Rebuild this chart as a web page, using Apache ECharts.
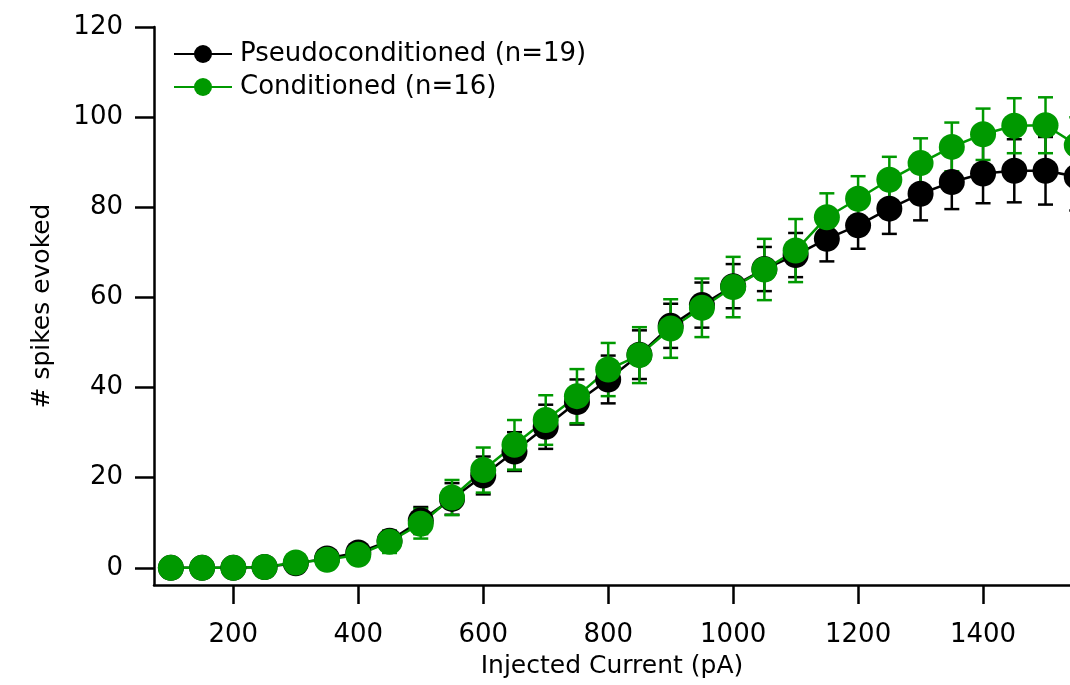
<!DOCTYPE html>
<html>
<head>
<meta charset="utf-8">
<script src="https://cdn.jsdelivr.net/npm/echarts@6/dist/echarts.min.js"></script>
<style>
  html, body { margin: 0; padding: 0; background: #fff; }
  #chart { width: 1070px; height: 685px; }
</style>
</head>
<body>
<div id="chart"></div>
<script>
// injected current steps (pA)
const currents = [100, 150, 200, 250, 300, 350, 400, 450, 500, 550, 600, 650, 700, 750, 800,
  850, 900, 950, 1000, 1050, 1100, 1150, 1200, 1250, 1300, 1350, 1400, 1450, 1500, 1550]

// Pseudoconditioned, mean and SEM
const pseudoMean = [0, 0, 0, 0.2, 1.0, 2.1, 3.4, 6.0, 10.5, 15.3, 20.5, 25.8, 31.3, 36.8, 41.8,
  47.3, 53.7, 58.3, 62.5, 66.3, 69.4, 73.0, 76.0, 79.7, 83.0, 85.6, 87.5, 88.1, 88.1, 86.8]
const pseudoErr = [0, 0, 0, 0.2, 0.5, 0.8, 1.2, 2.0, 3.0, 3.5, 4.2, 4.3, 4.9, 5.0, 5.3,
  5.4, 4.9, 5.0, 4.9, 4.9, 4.9, 5.0, 5.2, 5.6, 5.9, 6.0, 6.6, 7.0, 7.5, 7.5]

// Conditioned, mean and SEM
const condMean = [0, 0, 0, 0.2, 1.2, 1.8, 2.9, 5.8, 9.8, 15.6, 21.7, 27.3, 32.8, 38.1, 44.0,
  47.2, 53.1, 57.7, 62.3, 66.2, 70.4, 77.8, 81.9, 86.1, 89.8, 93.4, 96.2, 98.1, 98.2, 93.8]
const condErr = [0, 0, 0, 0.3, 0.6, 1.0, 1.5, 2.5, 3.3, 3.9, 5.0, 5.5, 5.5, 6.0, 5.9,
  6.2, 6.5, 6.5, 6.7, 6.8, 7.0, 5.3, 5.0, 5.1, 5.5, 5.4, 5.7, 6.1, 6.2, 6.2]

const xTicks = [200, 400, 600, 800, 1000, 1200, 1400]
const yTicks = [0, 20, 40, 60, 80, 100, 120]

const GREEN = '#009900'
const FONT = 'DejaVu Sans'

function points (mean) {
  return currents.map((c, i) => [c, mean[i]])
}

function errData (mean, err) {
  return currents.map((c, i) => [c, mean[i] - err[i], mean[i] + err[i]])
}

function errSeries (mean, err, color) {
  return {
    type: 'custom',
    silent: true,
    clip: false,
    data: errData(mean, err),
    renderItem (params, api) {
      const lo = api.coord([api.value(0), api.value(1)])
      const hi = api.coord([api.value(0), api.value(2)])
      const w = 7.5
      const style = { stroke: color, lineWidth: 2.5 }
      return {
        type: 'group',
        children: [
          { type: 'line', shape: { x1: lo[0], y1: lo[1], x2: hi[0], y2: hi[1] }, style },
          { type: 'line', shape: { x1: lo[0] - w, y1: lo[1], x2: lo[0] + w, y2: lo[1] }, style },
          { type: 'line', shape: { x1: hi[0] - w, y1: hi[1], x2: hi[0] + w, y2: hi[1] }, style }
        ]
      }
    }
  }
}

const chart = echarts.init(document.getElementById('chart'))
chart.setOption({
  animation: false,
  textStyle: { fontFamily: FONT },
  grid: { left: 154, top: 27, width: 954, height: 558, outerBoundsMode: 'none', containLabel: false },
  legend: {
    left: 168,
    top: 36,
    orient: 'vertical',
    itemWidth: 58,
    itemHeight: 22.5,
    itemGap: 7,
    textStyle: { fontSize: 26, color: '#000', fontFamily: FONT, padding: [0, 0, 0, 3] },
    data: ['Pseudoconditioned (n=19)', 'Conditioned (n=16)']
  },
  xAxis: {
    type: 'value',
    min: 73,
    max: 1600,
    name: 'Injected Current (pA)',
    nameLocation: 'middle',
    nameGap: 69,
    nameTextStyle: { fontSize: 25, color: '#000', padding: [0, 38, 0, 0] },
    axisLine: { onZero: false, lineStyle: { color: '#000', width: 2.5 } },
    axisTick: { customValues: xTicks, length: 19, lineStyle: { color: '#000', width: 2.5 } },
    axisLabel: { customValues: xTicks, margin: 37, fontSize: 26, color: '#000', formatter: v => String(v) },
    splitLine: { show: false }
  },
  yAxis: {
    type: 'value',
    min: -3.8,
    max: 120,
    name: '# spikes evoked',
    nameLocation: 'middle',
    nameGap: 99,
    nameTextStyle: { fontSize: 25, color: '#000' },
    axisLine: { show: true, onZero: false, lineStyle: { color: '#000', width: 2.5 } },
    axisTick: { show: true, customValues: yTicks, length: 19, lineStyle: { color: '#000', width: 2.5 } },
    axisLabel: { customValues: yTicks, margin: 31, fontSize: 26, color: '#000', formatter: v => String(v) },
    splitLine: { show: false }
  },
  series: [
    errSeries(pseudoMean, pseudoErr, '#000'),
    {
      name: 'Pseudoconditioned (n=19)',
      type: 'line',
      data: points(pseudoMean),
      symbol: 'circle',
      symbolSize: 26,
      clip: false,
      itemStyle: { color: '#000' },
      lineStyle: { color: '#000', width: 2.5 }
    },
    errSeries(condMean, condErr, GREEN),
    {
      name: 'Conditioned (n=16)',
      type: 'line',
      data: points(condMean),
      symbol: 'circle',
      symbolSize: 26,
      clip: false,
      itemStyle: { color: GREEN },
      lineStyle: { color: GREEN, width: 2.5 }
    }
  ]
})
</script>
</body>
</html>
